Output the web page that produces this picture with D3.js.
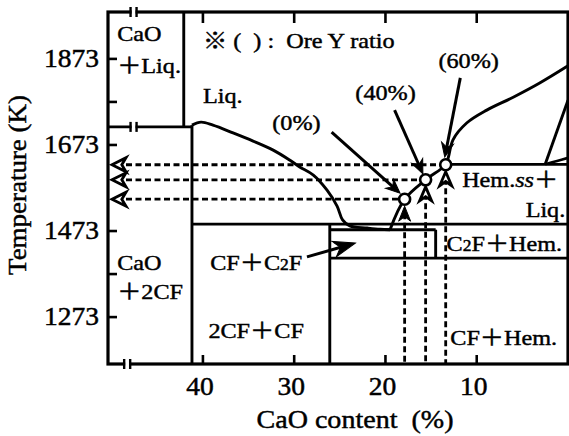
<!DOCTYPE html>
<html>
<head>
<meta charset="utf-8">
<script src="https://cdn.jsdelivr.net/npm/d3@7"></script>
<style>
  body { margin: 0; background: #fff; }
  text { font-family: "Liberation Serif", "Noto Sans CJK JP", serif; fill: #000; stroke: #000; stroke-width: 0.45; white-space: pre; }
</style>
</head>
<body>
<div id="chart"></div>
<script>
// CaO content (mass%) vs temperature (K)

// liquidus of the C2F side, down to the eutectic
const c2fLiquidus = [[41.2, 1719], [40.2, 1726], [38.9, 1719], [36.7, 1701], [34.5, 1682],
  [32.3, 1661], [30.5, 1638], [29.4, 1622], [27.9, 1603], [26.4, 1568], [25.3, 1531],
  [24.7, 1499], [23.9, 1485], [22.0, 1480], [20.6, 1477], [19.5, 1476]]

// hematite liquidus from the eutectic upwards
const hemLiquidus = [[19.5, 1476], [17.9, 1547], [15.6, 1592], [13.4, 1627], [13.1, 1645],
  [12.6, 1685], [11.1, 1724], [8.9, 1754], [6.0, 1784], [3.1, 1817], [0, 1857]]

// straight phase boundaries [[c1, T1], [c2, T2]]
const boundaries = [
  [[42.1, 1982], [42.1, 1715]],
  [[50.4, 1715], [41.2, 1715]],
  [[41.2, 1719], [41.2, 1164]],
  [[41.2, 1489], [0, 1489]],
  [[26.1, 1489], [26.1, 1164]],
  [[26.1, 1476], [14.5, 1476]],
  [[14.5, 1476], [14.5, 1410]],
  [[26.1, 1410], [0, 1410]],
  [[13.4, 1628], [0, 1628]],
  [[2.5, 1628], [0, 1777]]
]
const hemMagCurve = [[2.5, 1628], [1.2, 1636], [0, 1643]]

// ore Y ratio points
const oreRatio = ["0%", "40%", "60%"]
const oreCaO = [17.9, 15.6, 13.4]
const oreTemp = [1547, 1592, 1627]

// axes
const xTicks = [40, 30, 20, 10]
const yTicks = [1873, 1773, 1673, 1473, 1373, 1273]
const yTickLabels = [1873, 1673, 1473, 1273]

const W = 569, H = 436
const svg = d3.select("#chart").append("svg")
    .attr("width", W)
    .attr("height", H)

const x = d3.scaleLinear().domain([50.4, 0]).range([108, 568])
const y = d3.scaleLinear().domain([1164, 1982]).range([364, 12])

const line = d3.line().x(d => x(d[0])).y(d => y(d[1]))

// text helper, parts: plain strings, {sub: ".."}, {it: ".."}
function label(parts, px, py, size, anchor) {
  const t = svg.append("text")
      .attr("transform", `translate(${px},${py}) scale(1.1,1)`)
      .attr("font-size", size)
      .attr("text-anchor", anchor || "start")
  ;[].concat(parts).forEach(p => {
    if (typeof p === "string") t.append("tspan").text(p)
    else if (p.sub) t.append("tspan").attr("font-size", size * 0.72).text(p.sub)
    else if (p.it) t.append("tspan").attr("font-style", "italic").text(p.it)
  })
  return t
}

// arrow head, tip at (px,py), pointing along angle (radians)
function head(px, py, ang, len, wid, filled) {
  const p = d3.path()
  p.moveTo(0, 0)
  p.lineTo(-len, -wid)
  p.lineTo(-len * 0.7, 0)
  p.lineTo(-len, wid)
  p.closePath()
  svg.append("path")
      .attr("d", p.toString())
      .attr("transform", `translate(${px},${py}) rotate(${ang * 180 / Math.PI})`)
      .attr("fill", filled ? "#000" : "#fff")
      .attr("stroke", "#000")
      .attr("stroke-width", filled ? 1 : 2.8)
      .attr("stroke-linejoin", "miter")
}

// ---- phase diagram lines
svg.append("g").selectAll("path")
  .data(boundaries)
  .join("path")
    .attr("d", line)
    .attr("fill", "none")
    .attr("stroke", "#000")
    .attr("stroke-width", 2.9)

svg.append("path")
    .attr("d", line.curve(d3.curveCatmullRom.alpha(0.5))(c2fLiquidus))
    .attr("fill", "none")
    .attr("stroke", "#000")
    .attr("stroke-width", 2.9)

svg.append("path")
    .attr("d", line.curve(d3.curveCatmullRom.alpha(0.5))(hemLiquidus))
    .attr("fill", "none")
    .attr("stroke", "#000")
    .attr("stroke-width", 2.9)

svg.append("path")
    .attr("d", line.curve(d3.curveCatmullRom.alpha(0.5))(hemMagCurve))
    .attr("fill", "none")
    .attr("stroke", "#000")
    .attr("stroke-width", 2.6)

line.curve(d3.curveLinear)

// ---- dashed projections of the ore points
const ore = oreRatio.map((r, i) => ({ r, c: oreCaO[i], T: oreTemp[i] }))

svg.append("g").selectAll("line.h")
  .data(ore)
  .join("line")
    .attr("x1", x(50.4) + 18)
    .attr("x2", d => x(d.c) - 5)
    .attr("y1", d => y(d.T))
    .attr("y2", d => y(d.T))
    .attr("stroke", "#000")
    .attr("stroke-width", 2.8)
    .attr("stroke-dasharray", "6,3.5")

svg.append("g").selectAll("line.v")
  .data(ore)
  .join("line")
    .attr("x1", d => x(d.c))
    .attr("x2", d => x(d.c))
    .attr("y1", d => y(d.T) + 14)
    .attr("y2", y(1164))
    .attr("stroke", "#000")
    .attr("stroke-width", 2.8)
    .attr("stroke-dasharray", "6,3.5")

ore.forEach((d, i) => {
  // left chevrons on the temperature axis
  head(x(50.4) + 4, y(d.T), Math.PI, 14, 7, false)
  // upward heads below the circles
  head(x(d.c), y(d.T) + 7, -Math.PI / 2, i === 0 ? 15 : 14, 6, i === 0)
})

svg.append("g").selectAll("circle")
  .data(ore)
  .join("circle")
    .attr("cx", d => x(d.c))
    .attr("cy", d => y(d.T))
    .attr("r", 5.5)
    .attr("fill", "#fff")
    .attr("stroke", "#000")
    .attr("stroke-width", 2.6)

// ---- label arrows [from, to] in data units
const pointers = [
  [[25.9, 1703], [18.4, 1561]],
  [[19.0, 1754], [15.9, 1606]],
  [[11.8, 1829], [13.5, 1645]],
  [[28.6, 1413], [23.3, 1445]]
]
pointers.forEach(([a, b], i) => {
  const x1 = x(a[0]), y1 = y(a[1]), x2 = x(b[0]), y2 = y(b[1])
  const ang = Math.atan2(y2 - y1, x2 - x1)
  svg.append("line")
      .attr("x1", x1).attr("y1", y1)
      .attr("x2", x2 - 8 * Math.cos(ang)).attr("y2", y2 - 8 * Math.sin(ang))
      .attr("stroke", "#000")
      .attr("stroke-width", 3)
  head(x2, y2, ang, i === 3 ? 22 : 14, i === 3 ? 8 : 6, true)
})

// ---- frame
svg.append("rect")
    .attr("x", x(50.4))
    .attr("y", y(1982))
    .attr("width", x(0) - x(50.4))
    .attr("height", y(1164) - y(1982))
    .attr("fill", "none")
    .attr("stroke", "#000")
    .attr("stroke-width", 3.2)

// ticks pointing inwards
svg.append("g").selectAll("line")
  .data(yTicks)
  .join("line")
    .attr("x1", x(50.4))
    .attr("x2", x(50.4) + 9)
    .attr("y1", d => y(d))
    .attr("y2", d => y(d))
    .attr("stroke", "#000")
    .attr("stroke-width", 2.6)

svg.append("g").selectAll("line")
  .data(xTicks.flatMap(d => [[d, 1164, -9], [d, 1982, 11]]))
  .join("line")
    .attr("x1", d => x(d[0]))
    .attr("x2", d => x(d[0]))
    .attr("y1", d => y(d[1]))
    .attr("y2", d => y(d[1]) + d[2])
    .attr("stroke", "#000")
    .attr("stroke-width", 2.6)

// axis breaks
;[[47.6, 1982], [47.6, 1715], [48.3, 1164]].forEach(([c, T]) => {
  svg.append("rect")
      .attr("x", x(c) - 2).attr("y", y(T) - 3)
      .attr("width", 4).attr("height", 6)
      .attr("fill", "#fff")
  ;[-3, 3].forEach(o => {
    svg.append("line")
        .attr("x1", x(c) + o).attr("x2", x(c) + o)
        .attr("y1", y(T) - 5).attr("y2", y(T) + 5)
        .attr("stroke", "#000")
        .attr("stroke-width", 2.4)
  })
})

// tick labels
yTickLabels.forEach(d => label(String(d), x(50.4) - 9, y(d) + 8, 25, "end"))
xTicks.forEach(d => label(String(d), x(d) - 3, y(1164) + 31, 25, "middle"))

// axis titles
label("CaO content  (%)", 355, 428, 25.5, "middle")
svg.append("text")
    .attr("transform", `translate(26,185) rotate(-90) scale(1.1,1)`)
    .attr("font-size", 24.5)
    .attr("text-anchor", "middle")
    .text("Temperature (K)")

// ---- field labels
const fs = 22
label("CaO", x(49.4), y(1915), fs)
label("＋Liq.", x(49.4), y(1840), fs)
label("※ (  ) :  Ore Y ratio", x(40.0), y(1898), fs)
label("Liq.", x(40.0), y(1771), fs)
label("(0%)", x(32.4), y(1708), fs)
label("(40%)", x(23.3), y(1778), fs)
label("(60%)", x(14.2), y(1852), fs)
label(["Hem.", { it: "ss" }, "＋"], x(11.6), y(1575), fs)
label("Liq.", x(0.3), y(1506), fs, "end")
label(["C", { sub: "2" }, "F＋Hem."], x(13.3), y(1427), fs)
label("CF＋Hem.", x(12.9), y(1208), fs)
label("CaO", x(49.4), y(1382), fs)
label("＋2CF", x(49.4), y(1315), fs)
label(["CF＋C", { sub: "2" }, "F"], x(39.2), y(1382), fs)
label("2CF＋CF", x(39.4), y(1224), fs)
</script>
</body>
</html>
